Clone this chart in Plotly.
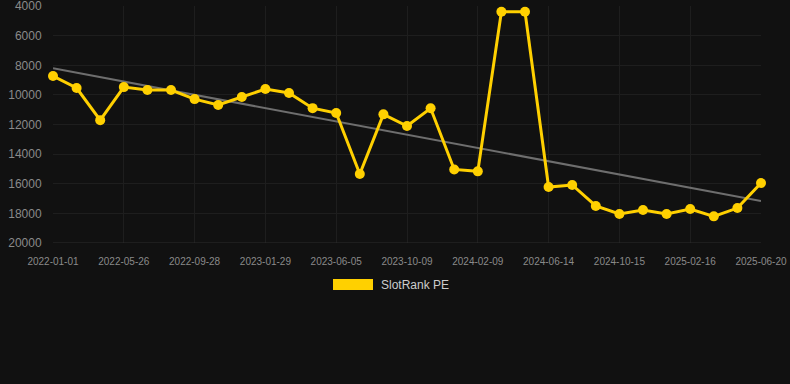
import numpy as np
import plotly.graph_objects as go

dates = ["2022-01-01", "2022-02-18", "2022-04-07", "2022-05-26", "2022-07-06", "2022-08-17",
         "2022-09-28", "2022-11-07", "2022-12-18", "2023-01-29", "2023-03-16", "2023-04-30",
         "2023-06-05", "2023-07-26", "2023-08-31", "2023-10-09", "2023-11-20", "2023-12-30",
         "2024-02-09", "2024-03-21", "2024-05-02", "2024-06-14", "2024-07-25", "2024-09-03",
         "2024-10-15", "2024-11-26", "2025-01-06", "2025-02-16", "2025-03-30", "2025-05-10",
         "2025-06-20"]
rank = [8720, 9530, 11700, 9470, 9670, 9670, 10280, 10680, 10140, 9600, 9870, 10890,
        11220, 15340, 11310, 12100, 10900, 15030, 15160, 4380, 4380, 16220, 16080, 17500,
        18040, 17770, 18040, 17700, 18200, 17640, 15950]
tick_labels = dates[::3]
y_ticks = [4000, 6000, 8000, 10000, 12000, 14000, 16000, 18000, 20000]
series_name = "SlotRank PE"

idx = np.arange(len(rank))
slope, intercept = np.polyfit(idx, rank, 1)
trend = slope * idx + intercept

fig = go.Figure()
fig.add_trace(go.Scatter(x=dates, y=trend, mode="lines",
                         line=dict(color="#6e6e6e", width=2), hoverinfo="skip",
                         showlegend=False))
fig.add_trace(go.Scatter(x=dates, y=rank, mode="lines+markers", name=series_name,
                         line=dict(color="#FFD000", width=3),
                         marker=dict(color="#FFD000", size=10),
                         cliponaxis=False, showlegend=False))

grid = "#1e1e1e"
fig.update_layout(
    width=790, height=384, autosize=False,
    margin=dict(l=53, r=29, t=6, b=141, autoexpand=False),
    paper_bgcolor="#111111", plot_bgcolor="#111111",
    font=dict(family="Liberation Sans, Arial, sans-serif", color="#8a8a8a"),
    xaxis=dict(type="category", range=[0, len(dates) - 1], automargin=False,
               tickmode="array", tickvals=tick_labels, ticktext=tick_labels,
               tickangle=0,
               showgrid=True, gridcolor=grid, gridwidth=1,
               zeroline=False, showline=False,
               ticks="outside", ticklen=9, tickcolor="rgba(0,0,0,0)",
               tickfont=dict(size=10, color="#8a8a8a")),
    yaxis=dict(range=[20000, 3990], tickmode="array", automargin=False,
               tickvals=y_ticks, ticktext=[str(v) for v in y_ticks],
               ticklabeloverflow="allow",
               showgrid=True, gridcolor=grid, gridwidth=1,
               zeroline=False, showline=False,
               ticks="outside", ticklen=8, tickcolor="rgba(0,0,0,0)",
               tickfont=dict(size=12, color="#8a8a8a")),
    showlegend=False,
)
fig.add_shape(type="line", xref="paper", yref="y", x0=0, x1=1, y0=20000, y1=20000,
              line=dict(color="#2c2c2c", width=1))
# legend (drawn manually as a wide swatch + label)
fig.add_shape(type="rect", xref="paper", yref="paper",
              x0=(333 - 53) / 708, x1=(373 - 53) / 708,
              y0=(243 - 290) / 237, y1=(243 - 279) / 237,
              fillcolor="#FFD000", line=dict(width=0))
fig.add_annotation(xref="paper", yref="paper", x=(379 - 53) / 708, y=(243 - 284.5) / 237,
                   text=series_name, showarrow=False, xanchor="left", yanchor="middle",
                   font=dict(size=12, color="#cccccc"))

fig.write_html("out.html", config={"displayModeBar": False},
               post_script="document.body.style.margin='0';")
